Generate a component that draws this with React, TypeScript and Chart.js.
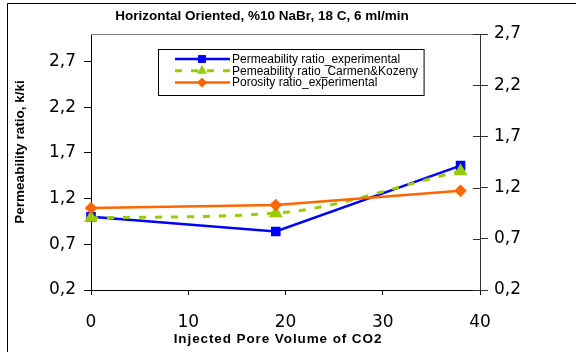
import { useEffect, useRef } from 'react';
import { Chart, registerables } from 'chart.js';

Chart.register(...registerables);

const chartTitle = 'Horizontal Oriented, %10 NaBr, 18 C, 6 ml/min';
const xAxisTitle = 'Injected Pore Volume of CO2';
const yAxisTitle = 'Permeability ratio, k/ki';

const seriesNames = [
  'Permeability ratio_experimental',
  'Pemeability ratio_Carmen&Kozeny',
  'Porosity ratio_experimental',
];

const injectedPV = [0, 19, 38];
const permExperimental = [1.0, 0.84, 1.56];
const permCarmenKozeny = [0.99, 1.04, 1.5];
const porosityExperimental = [1.0, 1.03, 1.17];

const xTicks = [0, 10, 20, 30, 40];
const yTicks = [0.2, 0.7, 1.2, 1.7, 2.2, 2.7];
const xRange = [0, 40];
const yLeftRange = [0.2, 3.0];
const yRightRange = [0.2, 2.7];

const BLUE = '#0000FF';
const GREEN = '#99CC00';
const ORANGE = '#FF6600';

const TICK_FONT = { family: 'DejaVu Sans', size: 17 };
const TITLE_FONT = 'bold 13.5px "Liberation Sans", Arial, sans-serif';
const LEGEND_FONT = '12px "Liberation Sans", Arial, sans-serif';

const fmt = (v: number) => v.toFixed(1).replace('.', ',');

function drawMarker(ctx: CanvasRenderingContext2D, style: string, x: number, y: number, r: number, color: string) {
  ctx.save();
  ctx.fillStyle = color;
  ctx.strokeStyle = color;
  ctx.lineWidth = 1;
  ctx.setLineDash([]);
  ctx.beginPath();
  if (style === 'rect') {
    const s = Math.SQRT1_2 * r;
    ctx.rect(x - s, y - s, 2 * s, 2 * s);
  } else if (style === 'triangle') {
    for (let k = 0; k < 3; k++) {
      const a = (k * 2 * Math.PI) / 3;
      const px = x + Math.sin(a) * r;
      const py = y - Math.cos(a) * r;
      if (k === 0) ctx.moveTo(px, py);
      else ctx.lineTo(px, py);
    }
    ctx.closePath();
  } else {
    ctx.moveTo(x, y - r);
    ctx.lineTo(x + r, y);
    ctx.lineTo(x, y + r);
    ctx.lineTo(x - r, y);
    ctx.closePath();
  }
  ctx.fill();
  ctx.stroke();
  ctx.restore();
}

const decorPlugin = {
  id: 'decor',
  afterDraw(chart: any) {
    const { ctx, chartArea: a, scales } = chart;
    ctx.save();
    // outer frame
    ctx.strokeStyle = '#000';
    ctx.lineWidth = 1;
    ctx.beginPath();
    ctx.moveTo(7.5, 352);
    ctx.lineTo(7.5, 3.5);
    ctx.lineTo(576, 3.5);
    ctx.stroke();

    // plot area top border
    ctx.strokeStyle = '#808080';
    ctx.beginPath();
    ctx.moveTo(a.left, a.top + 0.5);
    ctx.lineTo(a.right, a.top + 0.5);
    ctx.stroke();

    // inner part of right axis ticks
    ctx.strokeStyle = '#333';
    for (const v of yTicks) {
      const py = Math.round(scales.y2.getPixelForValue(v)) + 0.5;
      ctx.beginPath();
      ctx.moveTo(a.right - 7, py);
      ctx.lineTo(a.right, py);
      ctx.stroke();
    }

    // titles
    ctx.fillStyle = '#000';
    ctx.font = TITLE_FONT;
    ctx.textAlign = 'center';
    ctx.textBaseline = 'middle';
    ctx.fillText(chartTitle, 262, 16);
    ctx.save();
    (ctx as any).letterSpacing = '0.9px';
    ctx.fillText(xAxisTitle, 278, 339);
    ctx.restore();
    ctx.save();
    ctx.translate(20, 152);
    ctx.rotate(-Math.PI / 2);
    ctx.fillText(yAxisTitle, 0, 0);
    ctx.restore();

    // legend
    ctx.font = LEGEND_FONT;
    const textX = 232;
    let maxW = 0;
    chart.data.datasets.forEach((d: any) => {
      maxW = Math.max(maxW, ctx.measureText(d.label).width);
    });
    const boxL = 158.5, boxT = 49.5, boxH = 46;
    const boxW = textX + maxW + 6 - boxL;
    ctx.fillStyle = '#fff';
    ctx.fillRect(boxL, boxT, boxW, boxH);
    ctx.strokeStyle = '#000';
    ctx.lineWidth = 1;
    ctx.strokeRect(boxL, boxT, boxW, boxH);
    chart.data.datasets.forEach((d: any, i: number) => {
      const y = 59 + i * 11.8;
      ctx.save();
      ctx.strokeStyle = d.borderColor;
      ctx.lineWidth = d.borderWidth;
      ctx.setLineDash(d.borderDash || []);
      ctx.beginPath();
      ctx.moveTo(175, y);
      ctx.lineTo(230, y);
      ctx.stroke();
      ctx.restore();
      drawMarker(ctx, d.pointStyle, 202, y, d.pointRadius, d.borderColor);
      ctx.fillStyle = '#000';
      ctx.textAlign = 'left';
      ctx.textBaseline = 'middle';
      ctx.fillText(d.label, textX, y + 0.5);
    });
    ctx.restore();
  },
};

export default function App() {
  const ref = useRef<HTMLCanvasElement>(null);
  useEffect(() => {
    const canvas = ref.current;
    if (!canvas) return;
    const mk = (ys: number[]) => injectedPV.map((x, i) => ({ x, y: ys[i] }));
    const axisBase = (color: string, tickLength: number, padding: number) => ({
      grid: { display: true, drawOnChartArea: false, drawTicks: true, tickLength, color },
      border: { display: true, color, width: 1 },
      ticks: { font: TICK_FONT, color: '#000', padding, autoSkip: false, maxRotation: 0, callback: (v: any) => fmt(Number(v)) },
    });
    const chart = new Chart(canvas, {
      type: 'line',
      data: {
        datasets: [
          {
            label: seriesNames[0], data: mk(permExperimental), yAxisID: 'y',
            borderColor: BLUE, backgroundColor: BLUE, pointBackgroundColor: BLUE, borderWidth: 2.5,
            pointStyle: 'rect', pointRadius: 5, tension: 0, order: 3, clip: false,
          },
          {
            label: seriesNames[1], data: mk(permCarmenKozeny), yAxisID: 'y',
            borderColor: GREEN, backgroundColor: GREEN, pointBackgroundColor: GREEN, borderWidth: 3,
            borderDash: [7, 9], pointStyle: 'triangle', pointRadius: 5, cubicInterpolationMode: 'monotone',
            order: 2, clip: false,
          },
          {
            label: seriesNames[2], data: mk(porosityExperimental), yAxisID: 'y2',
            borderColor: ORANGE, backgroundColor: ORANGE, pointBackgroundColor: ORANGE, borderWidth: 2.5,
            pointStyle: 'rectRot', pointRadius: 4.5, tension: 0, order: 1, clip: false,
          },
        ] as any,
      },
      options: {
        responsive: false,
        animation: false,
        layout: { padding: { top: 34, left: 0, right: 0, bottom: 0 } },
        plugins: { legend: { display: false }, tooltip: { enabled: false }, title: { display: false } },
        scales: {
          x: {
            type: 'linear', min: xRange[0], max: xRange[1],
            ...axisBase('#000', 5, 17),
            ticks: { font: TICK_FONT, color: '#000', padding: 17, autoSkip: false, maxRotation: 0, callback: (v: any) => String(v) },
            afterBuildTicks: (s: any) => { s.ticks = xTicks.map((value) => ({ value })); },
            afterFit: (s: any) => { s.height = 62; },
          },
          y: {
            type: 'linear', position: 'left', min: yLeftRange[0], max: yLeftRange[1],
            ...axisBase('#000', 7, 8),
            afterBuildTicks: (s: any) => { s.ticks = yTicks.map((value) => ({ value })); },
            afterFit: (s: any) => { s.width = 91; },
          },
          y2: {
            type: 'linear', position: 'right', min: yRightRange[0], max: yRightRange[1],
            ...axisBase('#333', 8, 6),
            afterBuildTicks: (s: any) => { s.ticks = yTicks.map((value) => ({ value })); },
            afterFit: (s: any) => { s.width = 96; },
          },
        },
      } as any,
      plugins: [decorPlugin],
    });
    return () => chart.destroy();
  }, []);
  return (
    <div style={{ position: 'absolute', left: 0, top: 0, width: 576, height: 352, background: '#fff' }}>
      <canvas ref={ref} width={576} height={352} style={{ display: 'block', width: 576, height: 352 }} />
    </div>
  );
}
